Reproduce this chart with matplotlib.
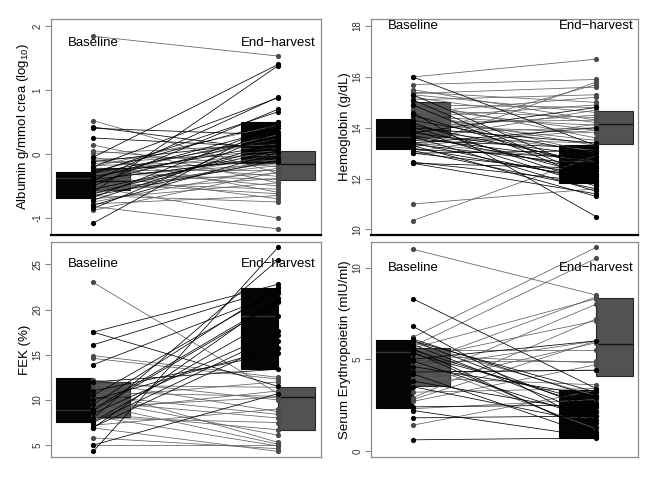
import numpy as np
import matplotlib
matplotlib.use("Agg")
import matplotlib.pyplot as plt

plt.rcParams['font.family'] = ['Liberation Sans', 'DejaVu Sans']
plt.rcParams['mathtext.fontset'] = 'custom'
plt.rcParams['mathtext.rm'] = 'Liberation Sans'

time_labels = ["Baseline", "End\u2212harvest"]

# ---------------- Albumin (log10) ----------------
alb_black_base = [0.42, 0.40, 0.25, -0.05, -0.12, -0.20, -0.28, -0.30, -0.35, -0.38, -0.40, -0.45, -0.50,
                  -0.55, -0.60, -0.62, -0.65, -0.68, -0.72, -0.80, -0.85, -1.08, -0.30, -0.42, -0.25]
alb_black_end = [0.05, 0.30, 0.10, 1.40, 0.20, 0.88, 0.50, 0.25, 0.15, 0.40, -0.05, 0.28, 0.70,
                 0.05, 1.38, 0.12, -0.10, 0.45, 0.20, 0.02, 0.35, 0.50, 0.66, 0.89, -0.12]
alb_gray_base = [1.84, 0.52, 0.14, 0.05, 0.01, -0.05, -0.10, -0.15, -0.18, -0.22, -0.25, -0.28, -0.30,
                 -0.33, -0.36, -0.40, -0.42, -0.45, -0.48, -0.50, -0.52, -0.55, -0.58, -0.62, -0.65,
                 -0.70, -0.75, -0.78, -0.82, -0.88, -0.35, -0.60, -0.20, -0.46, -0.08]
alb_gray_end = [1.53, -0.30, -0.45, -0.20, 0.15, -0.60, -0.35, 0.05, -0.10, -0.50, -0.25, 0.02, -0.40,
                -0.70, -0.15, -0.05, 0.25, -0.55, -0.30, -0.18, -1.00, 0.00, -0.38, -0.08, -0.75,
                -0.45, -0.22, -0.65, -1.17, -0.28, 0.30, -0.12, 0.45, -0.62, -0.02]
# box stats: [q1, median, q3] for (black baseline, gray baseline, black end, gray end)
alb_q1 = [-0.68, -0.57, -0.14, -0.40]
alb_med = [-0.38, -0.42, 0.10, -0.16]
alb_q3 = [-0.28, -0.22, 0.50, 0.05]

# ---------------- Hemoglobin ----------------
hb_black_base = [16.0, 15.3, 15.1, 14.9, 14.6, 14.5, 14.3, 14.2, 14.1, 14.0, 13.9, 13.8, 13.7, 13.65, 13.6,
                 13.5, 13.4, 13.35, 13.3, 13.2, 13.15, 13.1, 13.0, 13.0, 12.65, 12.6, 12.6, 13.8, 13.4, 14.0]
hb_black_end = [13.3, 12.2, 12.0, 11.9, 10.5, 12.4, 13.0, 11.8, 12.6, 12.1, 11.7, 12.9, 12.3, 11.5, 12.7,
                13.2, 11.9, 12.5, 11.3, 12.0, 12.8, 11.6, 12.2, 13.1, 11.85, 12.4, 11.4, 14.8, 14.0, 13.4]
hb_gray_base = [16.0, 15.7, 15.4, 15.35, 15.3, 15.2, 15.1, 15.0, 14.9, 14.8, 14.7, 14.6, 14.5, 14.45, 14.4,
                14.3, 14.2, 14.1, 14.0, 13.9, 13.8, 13.7, 13.6, 13.5, 13.4, 13.3, 13.2, 11.0, 10.35, 15.5,
                14.65, 13.05]
hb_gray_end = [16.7, 15.9, 15.0, 15.6, 14.6, 14.2, 15.3, 13.6, 14.8, 13.9, 14.4, 15.2, 13.3, 14.1, 14.9,
               13.5, 14.3, 13.8, 14.5, 13.1, 14.0, 15.7, 13.4, 14.7, 12.7, 13.9, 15.8, 11.6, 12.9, 14.3,
               13.0, 14.15]
hb_q1 = [13.15, 13.62, 11.83, 13.35]
hb_med = [13.65, 14.43, 12.70, 14.15]
hb_q3 = [14.34, 15.02, 13.32, 14.66]

# ---------------- FEK ----------------
fek_black_base = [4.3, 8.0, 17.5, 16.1, 13.9, 10.5, 9.0, 8.5, 7.0, 11.0, 8.8, 7.6, 12.0, 9.5, 17.5,
                  5.0, 10.0, 7.5, 6.9]
fek_black_end = [26.9, 25.5, 22.8, 22.4, 21.8, 22.1, 21.0, 17.6, 16.5, 15.2, 20.8, 19.3, 13.4, 22.5, 11.5,
                 10.7, 15.8, 17.2, 21.3]
fek_gray_base = [23.0, 14.9, 14.6, 12.0, 11.6, 11.2, 10.8, 10.5, 10.3, 10.0, 9.8, 9.5, 9.2, 8.8, 8.5,
                 8.2, 8.0, 7.2, 6.9, 5.8, 5.0, 12.2]
fek_gray_end = [10.7, 12.5, 12.3, 8.7, 11.4, 5.3, 10.4, 8.4, 12.0, 6.1, 8.0, 5.1, 10.3, 11.0, 6.7,
                4.9, 7.5, 9.0, 4.3, 4.6, 5.0, 10.0]
fek_q1 = [7.51, 8.07, 13.37, 6.70]
fek_med = [8.92, 10.37, 19.29, 10.37]
fek_q3 = [12.40, 12.03, 22.33, 11.40]

# ---------------- Erythropoietin ----------------
epo_black_base = [8.3, 6.8, 6.1, 6.0, 5.8, 5.6, 5.5, 5.4, 5.3, 5.0, 4.9, 4.6, 4.3, 4.2, 3.8, 3.5,
                  2.4, 2.2, 1.8, 0.6, 6.0]
epo_black_end = [3.4, 1.3, 2.9, 3.2, 1.9, 0.9, 2.4, 1.0, 2.6, 6.0, 1.7, 3.0, 4.4, 0.8, 2.1, 1.5,
                 2.5, 0.75, 1.9, 0.7, 2.2]
epo_gray_base = [11.0, 6.2, 5.7, 5.6, 5.5, 5.2, 5.0, 4.9, 4.7, 4.5, 4.3, 4.0, 3.8, 3.6, 3.2, 2.9,
                 2.8, 2.7, 2.3, 1.4, 4.9, 5.9]
epo_gray_end = [8.5, 11.1, 10.5, 8.3, 5.5, 4.8, 7.1, 4.9, 8.4, 6.0, 4.4, 3.6, 8.0, 5.9, 3.4, 7.2,
                6.0, 4.7, 2.8, 3.3, 1.2, 3.0]
epo_q1 = [2.33, 3.56, 0.69, 4.07]
epo_med = [5.41, 4.90, 1.87, 5.82]
epo_q3 = [6.05, 5.63, 3.31, 8.33]

ylabels = ["Albumin g/mmol crea (log$_{\\mathregular{10}}$)", "Hemoglobin (g/dL)",
           "FEK (%)", "Serum Erythropoietin (mIU/ml)"]

panels = [
    dict(bb=alb_black_base, be=alb_black_end, gb=alb_gray_base, ge=alb_gray_end,
         q1=alb_q1, med=alb_med, q3=alb_q3, ylim=(-1.258, 2.117), ticks=[-1, 0, 1, 2], ty=1.74,
         rect=[50.7, 18.5, 320.7, 234.5]),
    dict(bb=hb_black_base, be=hb_black_end, gb=hb_gray_base, ge=hb_gray_end,
         q1=hb_q1, med=hb_med, q3=hb_q3, ylim=(9.8, 18.3), ticks=[10, 12, 14, 16, 18], ty=18.0,
         rect=[370.7, 18.5, 638.3, 234.5]),
    dict(bb=fek_black_base, be=fek_black_end, gb=fek_gray_base, ge=fek_gray_end,
         q1=fek_q1, med=fek_med, q3=fek_q3, ylim=(3.74, 27.44), ticks=[5, 10, 15, 20, 25], ty=25.0,
         rect=[50.7, 242.3, 320.7, 456.5]),
    dict(bb=epo_black_base, be=epo_black_end, gb=epo_gray_base, ge=epo_gray_end,
         q1=epo_q1, med=epo_med, q3=epo_q3, ylim=(-0.31, 11.38), ticks=[0, 5, 10], ty=10.0,
         rect=[370.7, 242.3, 638.3, 456.5]),
]

W, H = 660, 480
fig = plt.figure(figsize=(6.6, 4.8), dpi=100)

BLACK = "#000000"
GRAY = "#4a4a4a"
GRAY_LINE = "#606060"
SPINE = "#8a8a8a"

for i, p in enumerate(panels):
    x0, y0, x1, y1 = p["rect"]
    ax = fig.add_axes([x0 / W, 1 - y1 / H, (x1 - x0) / W, (y1 - y0) / H])
    ax.set_xlim(0.77, 2.23)
    ax.set_ylim(*p["ylim"])

    # boxes
    stats = []
    for k in range(4):
        stats.append(dict(q1=p["q1"][k], med=p["med"][k], q3=p["q3"][k],
                          whislo=p["q1"][k], whishi=p["q3"][k], fliers=[]))
    positions = [0.9, 1.1, 1.9, 2.1]
    bp = ax.bxp(stats, positions=positions, widths=0.2, patch_artist=True,
                showcaps=False, showfliers=False, manage_ticks=False,
                whiskerprops=dict(linewidth=0), zorder=1)
    fills = ["#050505", "#525252", "#050505", "#525252"]
    for k, box in enumerate(bp["boxes"]):
        box.set_facecolor(fills[k])
        box.set_edgecolor("#262626" if k % 2 else "#050505")
        box.set_linewidth(0.8)
    for k, m in enumerate(bp["medians"]):
        m.set_color("#333333" if k % 2 == 0 else "#111111")
        m.set_linewidth(1.0)

    # paired lines
    gb, ge = np.asarray(p["gb"]), np.asarray(p["ge"])
    bb, be = np.asarray(p["bb"]), np.asarray(p["be"])
    ax.plot(np.vstack([np.ones_like(gb), 2 * np.ones_like(ge)]), np.vstack([gb, ge]),
            color=GRAY_LINE, lw=0.55, zorder=2)
    ax.plot(np.vstack([np.ones_like(bb), 2 * np.ones_like(be)]), np.vstack([bb, be]),
            color=BLACK, lw=0.55, zorder=2.1)
    ax.scatter(np.r_[np.ones_like(gb), 2 * np.ones_like(ge)], np.r_[gb, ge],
               s=14, color=GRAY, linewidths=0, zorder=3)
    ax.scatter(np.r_[np.ones_like(bb), 2 * np.ones_like(be)], np.r_[bb, be],
               s=14, color=BLACK, linewidths=0, zorder=3.1)

    ax.text(1, p["ty"], time_labels[0], ha="center", va="center", fontsize=9.5, zorder=4)
    ax.text(2, p["ty"], time_labels[1], ha="center", va="center", fontsize=9.5, zorder=4)

    ax.set_xticks([])
    ax.set_yticks(p["ticks"])
    ax.set_yticklabels([str(t) for t in p["ticks"]])
    ax.tick_params(axis="y", direction="out", length=4, width=0.8, color=SPINE,
                   labelsize=7, labelcolor="#333333", pad=2)
    for lab in ax.get_yticklabels():
        lab.set_rotation(90)
        lab.set_va("center")
    ax.set_ylabel(ylabels[i], fontsize=9.5, labelpad=1)
    for s in ax.spines.values():
        s.set_color(SPINE)
        s.set_linewidth(0.9)
    if i < 2:
        ax.spines["bottom"].set_color("#000000")
        ax.spines["bottom"].set_linewidth(1.6)

fig.savefig("out.png", dpi=100)
